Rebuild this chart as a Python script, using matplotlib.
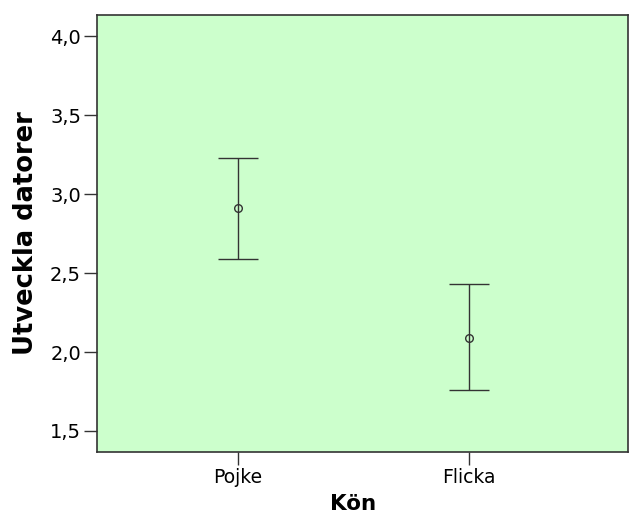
import numpy as np
import matplotlib.pyplot as plt

# data
kategorier = ['Pojke', 'Flicka']
medel = [2.91, 2.09]
ci_low = [2.59, 1.76]
ci_high = [3.23, 2.43]
yticks = [1.5, 2.0, 2.5, 3.0, 3.5, 4.0]

fig = plt.figure(figsize=(6.36, 5.17), dpi=100)
ax = fig.add_axes([0.1525, 0.1257, 0.8345, 0.8453])
ax.set_facecolor('#ccffcc')

x = np.arange(len(kategorier))
medel = np.array(medel)
err = [medel - np.array(ci_low), np.array(ci_high) - medel]
ax.errorbar(x, medel, yerr=err, fmt='o', mfc='none', mec='#333333', ms=5.5,
            mew=1.0, ecolor='#333333', elinewidth=1.0, capsize=14.4, capthick=1.0)

ax.set_xlim(-0.61, 1.69)
ax.set_ylim(1.367, 4.133)
ax.set_xticks(x)
ax.set_xticklabels(kategorier, fontsize=13.5)
ax.set_yticks(yticks)
ax.set_yticklabels([f'{v:.1f}'.replace('.', ',') for v in yticks], fontsize=14)
ax.tick_params(axis='both', length=9.5, width=1, color='#333333', direction='out', pad=2)

for s in ax.spines.values():
    s.set_color('#333333')
    s.set_linewidth(1.2)

ax.set_xlabel('Kön', fontsize=15.5, fontweight='bold')
ax.xaxis.set_label_coords(0.483, -0.095)
ax.set_ylabel('Utveckla datorer', fontsize=18.5, fontweight='bold', labelpad=8)

fig.savefig('out.png', dpi=100)
